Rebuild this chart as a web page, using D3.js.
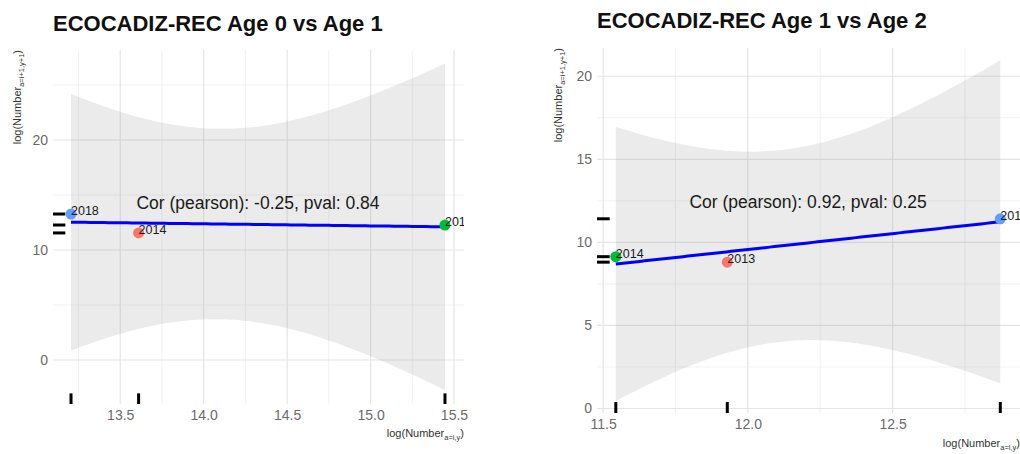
<!DOCTYPE html>
<html>
<head>
<meta charset="utf-8">
<script src="https://cdn.jsdelivr.net/npm/d3@7"></script>
<style>
  html, body { margin: 0; padding: 0; background: #ffffff; }
  svg { display: block; font-family: "Liberation Sans", Arial, sans-serif; }
</style>
</head>
<body>
<svg id="chart" width="1020" height="454"></svg>
<script>
// ---- Data: log abundance of one age class vs the next age class a year later ----
const titles = ["ECOCADIZ-REC Age 0 vs Age 1", "ECOCADIZ-REC Age 1 vs Age 2"];

const years01 = ["2014", "2016", "2018"];
const x01 = [13.61, 15.446, 13.205];
const y01 = [11.55, 12.27, 13.27];

const years12 = ["2013", "2014", "2017"];
const x12 = [11.929, 11.544, 12.872];
const y12 = [8.81, 9.14, 11.42];

const corLabels = [
  "Cor (pearson): -0.25, pval: 0.84",
  "Cor (pearson): 0.92, pval: 0.25"
];

const xTicks01 = [13.5, 14.0, 14.5, 15.0, 15.5];
const xMinor01 = [13.25, 13.75, 14.25, 14.75, 15.25];
const yTicks01 = [0, 10, 20];
const yMinor01 = [5, 15, 25];

const xTicks12 = [11.5, 12.0, 12.5];
const xMinor12 = [11.75, 12.25, 12.75];
const yTicks12 = [0, 5, 10, 15, 20];
const yMinor12 = [2.5, 7.5, 12.5, 17.5];

const pointColors = ["#F8766D", "#00BA38", "#619CFF"];

// ---- Layout of the two panels ----
const layout = [
  { left: 53, right: 464, top: 50, bottom: 404, xDomain: [13.097, 15.56], yDomain: [-4.0, 28.18],
    titleY: 31, yTitleX: 21 },
  { left: 597, right: 1020, top: 48, bottom: 413, xDomain: [11.479, 12.94], yDomain: [-0.27, 21.7],
    titleY: 28, yTitleX: 562 }
];

const panelData = [
  { years: years01, xs: x01, ys: y01, xTicks: xTicks01, xMinor: xMinor01, yTicks: yTicks01, yMinor: yMinor01 },
  { years: years12, xs: x12, ys: y12, xTicks: xTicks12, xMinor: xMinor12, yTicks: yTicks12, yMinor: yMinor12 }
];

// Linear fit with 95% confidence band (as geom_smooth(method = "lm"))
function linearFit(xs, ys) {
  const n = xs.length;
  const mx = d3.mean(xs), my = d3.mean(ys);
  let sxx = 0, sxy = 0;
  for (let i = 0; i < n; i++) { sxx += (xs[i] - mx) ** 2; sxy += (xs[i] - mx) * (ys[i] - my); }
  const b = sxy / sxx, a = my - b * mx;
  let sse = 0;
  for (let i = 0; i < n; i++) sse += (ys[i] - (a + b * xs[i])) ** 2;
  const sigma = Math.sqrt(sse / (n - 2));
  const tq = 12.7062; // t quantile 0.975, df = 1
  const [x0, x1] = d3.extent(xs);
  const pts = d3.range(81).map(k => {
    const x = x0 + (x1 - x0) * k / 80;
    const fit = a + b * x;
    const se = sigma * Math.sqrt(1 / n + (x - mx) ** 2 / sxx);
    return { x, fit, lo: fit - tq * se, hi: fit + tq * se };
  });
  return pts;
}

const svg = d3.select("#chart");
const defs = svg.append("defs");

panelData.forEach((pd, p) => {
  const L = layout[p];
  const xScale = d3.scaleLinear().domain(L.xDomain).range([L.left, L.right]);
  const yScale = d3.scaleLinear().domain(L.yDomain).range([L.bottom, L.top]);
  const g = svg.append("g");

  defs.append("clipPath").attr("id", "clip" + p)
    .append("rect").attr("x", L.left).attr("y", L.top)
    .attr("width", L.right - L.left).attr("height", L.bottom - L.top);

  // grid
  const grid = g.append("g");
  grid.selectAll(".vmin").data(pd.xMinor).join("line")
    .attr("x1", d => xScale(d)).attr("x2", d => xScale(d))
    .attr("y1", L.top).attr("y2", L.bottom)
    .attr("stroke", "#ededed").attr("stroke-width", 0.8);
  grid.selectAll(".hmin").data(pd.yMinor).join("line")
    .attr("y1", d => yScale(d)).attr("y2", d => yScale(d))
    .attr("x1", L.left).attr("x2", L.right)
    .attr("stroke", "#ededed").attr("stroke-width", 0.8);
  grid.selectAll(".vmaj").data(pd.xTicks).join("line")
    .attr("x1", d => xScale(d)).attr("x2", d => xScale(d))
    .attr("y1", L.top).attr("y2", L.bottom)
    .attr("stroke", "#e4e4e4").attr("stroke-width", 1.2);
  grid.selectAll(".hmaj").data(pd.yTicks).join("line")
    .attr("y1", d => yScale(d)).attr("y2", d => yScale(d))
    .attr("x1", L.left).attr("x2", L.right)
    .attr("stroke", "#e4e4e4").attr("stroke-width", 1.2);

  const plot = g.append("g").attr("clip-path", `url(#clip${p})`);

  // confidence band and fitted line
  const fit = linearFit(pd.xs, pd.ys);
  plot.append("path").datum(fit)
    .attr("d", d3.area().x(d => xScale(d.x)).y0(d => yScale(d.lo)).y1(d => yScale(d.hi)))
    .attr("fill", "#999999").attr("fill-opacity", 0.2);
  plot.append("path").datum(fit)
    .attr("d", d3.line().x(d => xScale(d.x)).y(d => yScale(d.fit)))
    .attr("fill", "none").attr("stroke", "#0000ff").attr("stroke-width", 3);

  // rugs
  const rugX = (L.right - L.left) * 0.03, rugY = (L.bottom - L.top) * 0.03;
  plot.selectAll(".rugx").data(pd.xs).join("line")
    .attr("x1", d => xScale(d)).attr("x2", d => xScale(d))
    .attr("y1", L.bottom).attr("y2", L.bottom - rugY)
    .attr("stroke", "#000").attr("stroke-width", 3);
  plot.selectAll(".rugy").data(pd.ys).join("line")
    .attr("y1", d => yScale(d)).attr("y2", d => yScale(d))
    .attr("x1", L.left).attr("x2", L.left + rugX)
    .attr("stroke", "#000").attr("stroke-width", 3);

  // points and year labels
  const idx = d3.range(pd.xs.length);
  plot.selectAll(".pt").data(idx).join("circle")
    .attr("cx", i => xScale(pd.xs[i])).attr("cy", i => yScale(pd.ys[i]))
    .attr("r", 5.5).attr("fill", i => pointColors[i]);
  plot.selectAll(".lab").data(idx).join("text")
    .attr("x", i => xScale(pd.xs[i])).attr("y", i => yScale(pd.ys[i]) + 1)
    .attr("font-size", 12.5).attr("fill", "#1a1a1a")
    .text(i => pd.years[i]);

  // correlation annotation
  const xMid = d3.mean(d3.extent(pd.xs));
  g.append("text")
    .attr("x", xScale(xMid)).attr("y", yScale(d3.max(pd.ys) + 1))
    .attr("text-anchor", "middle").attr("dominant-baseline", "central")
    .attr("font-size", 17.5).attr("fill", "#1a1a1a")
    .text(corLabels[p]);

  // axes (labels only)
  const xAxis = g.append("g").attr("transform", `translate(0,${L.bottom})`)
    .call(d3.axisBottom(xScale).tickValues(pd.xTicks).tickFormat(d3.format(".1f")).tickSize(0).tickPadding(6));
  const yAxis = g.append("g").attr("transform", `translate(${L.left},0)`)
    .call(d3.axisLeft(yScale).tickValues(pd.yTicks).tickFormat(d3.format("d")).tickSize(0).tickPadding(5));
  [xAxis, yAxis].forEach(ax => {
    ax.select(".domain").remove();
    ax.selectAll("text").attr("font-size", 14).attr("fill", "#6b6b6b")
      .attr("font-family", "Liberation Sans, Arial, sans-serif");
  });

  // axis titles
  const xt = g.append("text").attr("x", L.right).attr("y", p === 0 ? 437 : 447)
    .attr("text-anchor", "end").attr("font-size", 11).attr("fill", "#333");
  xt.append("tspan").text("log(Number");
  xt.append("tspan").attr("font-size", 7.5).attr("dy", 3).text("a=i,y");
  xt.append("tspan").attr("dy", -3).text(")");

  const yt = g.append("text")
    .attr("transform", `translate(${L.yTitleX},${L.top}) rotate(-90)`)
    .attr("text-anchor", "end").attr("font-size", 11).attr("fill", "#333");
  yt.append("tspan").text("log(Number");
  yt.append("tspan").attr("font-size", 7.5).attr("dy", 3).text("a=i+1,y+1");
  yt.append("tspan").attr("dy", -3).text(")");

  // title
  g.append("text").attr("x", L.left).attr("y", L.titleY)
    .attr("font-size", 22).attr("font-weight", "bold").attr("fill", "#111")
    .text(titles[p]);
});
</script>
</body>
</html>
